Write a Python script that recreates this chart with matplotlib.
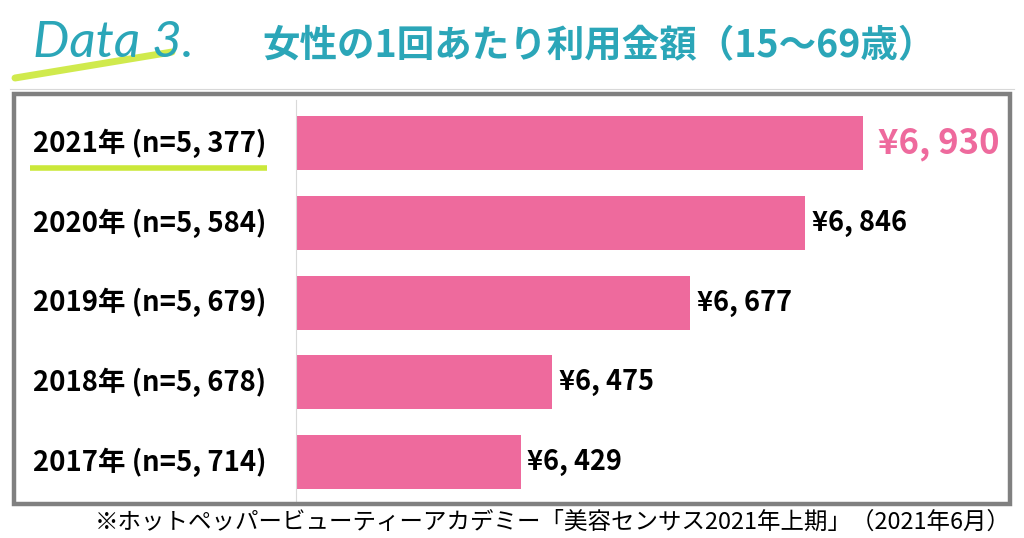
import matplotlib
matplotlib.use('Agg')
import matplotlib.pyplot as plt
import matplotlib.transforms as mtransforms
from matplotlib.patches import Rectangle
from matplotlib.lines import Line2D

# data
years = ['2021年', '2020年', '2019年', '2018年', '2017年']
samples = ['5, 377', '5, 584', '5, 679', '5, 678', '5, 714']
amounts = [6930, 6846, 6677, 6475, 6429]
value_labels = ['¥6, 930', '¥6, 846', '¥6, 677', '¥6, 475', '¥6, 429']

title = '女性の1回あたり利用金額（15～69歳）'
note = '※ホットペッパービューティーアカデミー「美容センサス2021年上期」（2021年6月）'

W, H = 1024, 538
teal = '#2ba6b8'
pink = '#ee6a9d'
lime = '#cbe83a'
cjk = ['Noto Sans CJK JP', 'DejaVu Sans']


def fx(x):
    return x / W


def fy(y):
    return 1 - y / H


fig = plt.figure(figsize=(W / 100, H / 100), dpi=100)

# grey frame
fig.patches.append(Rectangle((fx(14), fy(504)), fx(996), 410 / H, transform=fig.transFigure,
                             fill=False, edgecolor='#808080', linewidth=3.2))
fig.lines.append(Line2D([fx(10), fx(1014)], [fy(89), fy(89)], transform=fig.transFigure,
                        color='#d8d8d8', linewidth=0.8))

ax = fig.add_axes([fx(296), fy(502), fx(1008 - 296), 402 / H])
ypos = list(range(len(amounts)))
ax.barh(ypos, amounts, height=0.675, color=pink, left=0)
ax.set_xlim(6100, 7143)
ax.set_ylim(4.5, -0.54)
ax.set_xticks([])
ax.set_yticks([])
for s in ['top', 'right', 'bottom']:
    ax.spines[s].set_visible(False)
ax.spines['left'].set_color('#d9d9d9')
ax.spines['left'].set_linewidth(0.8)
ax.patch.set_alpha(0)

# category labels
trans = mtransforms.blended_transform_factory(fig.transFigure, ax.transData)
for i in ypos:
    ax.text(fx(33), i, f'{years[i]} (n={samples[i]})', transform=trans, ha='left', va='center',
            fontsize=19.8, fontweight='bold', family=cjk, color='black')

# underline for latest year
fig.lines.append(Line2D([fx(30), fx(267)], [fy(168), fy(168)], transform=fig.transFigure,
                        color=lime, linewidth=4, solid_capstyle='butt'))

# value labels
for i in ypos:
    if i == 0:
        ax.text(amounts[i] + 22, i, value_labels[i], ha='left', va='center', fontsize=25,
                fontweight='bold', family=cjk, color=pink)
    else:
        ax.text(amounts[i] + 10, i, value_labels[i], ha='left', va='center', fontsize=19.5,
                fontweight='bold', family=cjk, color='black')

# headings
fig.text(fx(262), fy(46), title, ha='left', va='center', fontsize=27, fontweight='bold',
         family=cjk, color=teal)
fig.lines.append(Line2D([fx(15), fx(172)], [fy(78), fy(52)], transform=fig.transFigure,
                        color=lime, linewidth=5, solid_capstyle='round', alpha=0.9))
fig.text(fx(33), fy(43), 'Data 3.', ha='left', va='center', fontsize=37, style='italic',
         fontweight='normal', family=['Lato', 'DejaVu Sans'], color=teal)

fig.text(fx(95), fy(522), note, ha='left', va='center', fontsize=16.9, family=cjk, color='black')

fig.savefig('out.png', dpi=100)
